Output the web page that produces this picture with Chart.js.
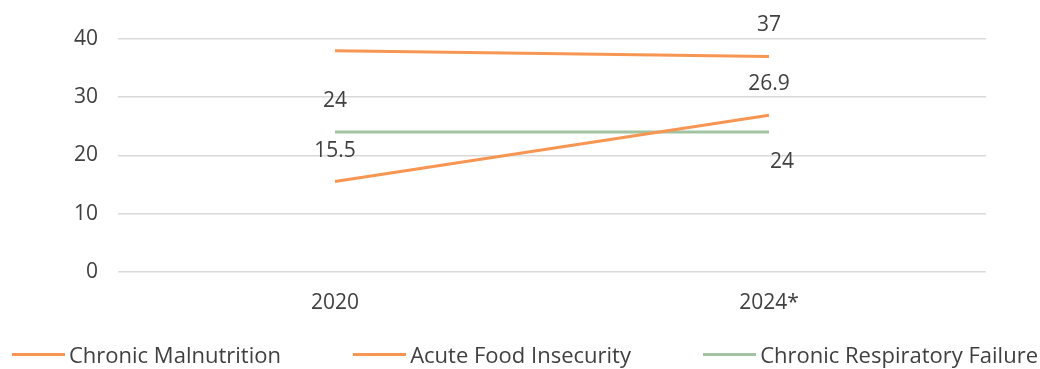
<!DOCTYPE html>
<html>
<head>
<meta charset="utf-8">
<script src="https://cdn.jsdelivr.net/npm/chart.js@4/dist/chart.umd.min.js"></script>
<style>
  html, body { margin: 0; padding: 0; background: #fff; }
  #wrap { position: relative; width: 1040px; height: 369px; }
  #legend {
    position: absolute; left: 12px; right: 2px; top: 340px; height: 28px;
    display: flex; justify-content: space-between; align-items: center;
    font: 22px "Open Sans", Lato, sans-serif; color: #404040;
  }
  #legend .item { display: flex; align-items: center; white-space: nowrap; }
  #legend .swatch { width: 53px; height: 3px; margin-right: 4px; }
</style>
</head>
<body>
<div id="wrap">
  <canvas id="chart"></canvas>
  <div id="legend"></div>
</div>
<script>
const years = ['2020', '2024*'];
const malnutrition = [38, 37];
const foodInsecurity = [15.5, 26.9];
const respiratory = [24, 24];
// which points carry a value label
const malnutritionShow = [false, true];
const foodInsecurityShow = [true, true];
const respiratoryShow = [true, true];
const yTicks = [0, 10, 20, 30, 40];

const ORANGE = '#F79552';
const GREEN = '#A2C3A2';
const TEXT = '#404040';
const FONT = '"Open Sans", Lato, sans-serif';

// draws the value labels next to the points
const valueLabels = {
    id: 'valueLabels',
    afterDatasetsDraw(chart) {
        const ctx = chart.ctx;
        ctx.save();
        ctx.font = `21px ${FONT}`;
        ctx.fillStyle = TEXT;
        ctx.textAlign = 'center';
        ctx.textBaseline = 'middle';
        chart.data.datasets.forEach((ds, di) => {
            const meta = chart.getDatasetMeta(di);
            meta.data.forEach((pt, i) => {
                if (!ds.showLabel[i]) return;
                const off = ds.labelOffset[i];
                ctx.fillText(String(ds.data[i]), pt.x + off[0], pt.y + off[1]);
            });
        });
        ctx.restore();
    }
};

// legend built as html from the chart's own legend items
const htmlLegend = {
    id: 'htmlLegend',
    afterUpdate(chart) {
        const box = document.getElementById('legend');
        box.innerHTML = '';
        chart.options.plugins.legend.labels.generateLabels(chart).forEach(item => {
            const el = document.createElement('span');
            el.className = 'item';
            const sw = document.createElement('span');
            sw.className = 'swatch';
            sw.style.background = item.strokeStyle;
            el.appendChild(sw);
            el.appendChild(document.createTextNode(item.text));
            box.appendChild(el);
        });
    }
};

new Chart(document.getElementById('chart'), {
    type: 'line',
    plugins: [valueLabels, htmlLegend],
    data: {
        labels: years,
        datasets: [
            {
                label: 'Chronic Malnutrition',
                data: malnutrition,
                showLabel: malnutritionShow,
                labelOffset: [[0, -31], [0, -31]],
                borderColor: ORANGE,
                backgroundColor: ORANGE,
            },
            {
                label: 'Acute Food Insecurity',
                data: foodInsecurity,
                showLabel: foodInsecurityShow,
                labelOffset: [[0, -31], [0, -31]],
                borderColor: ORANGE,
                backgroundColor: ORANGE,
            },
            {
                label: 'Chronic Respiratory Failure',
                data: respiratory,
                showLabel: respiratoryShow,
                labelOffset: [[0, -31], [13, 30]],
                borderColor: GREEN,
                backgroundColor: GREEN,
            },
        ]
    },
    options: {
        responsive: true,
        maintainAspectRatio: false,
        animation: false,
        layout: { padding: { top: 39, right: 54, left: 0, bottom: 34 } },
        elements: {
            line: { borderWidth: 3, tension: 0 },
            point: { radius: 0, hoverRadius: 0 },
        },
        scales: {
            x: {
                offset: true,
                grid: { display: false, drawTicks: false },
                border: { display: false },
                ticks: { color: TEXT, font: { family: FONT, size: 21 }, padding: 19 },
            },
            y: {
                min: 0,
                max: 40,
                afterBuildTicks: scale => { scale.ticks = yTicks.map(v => ({ value: v })); },
                afterFit: scale => { scale.width = 118; },
                grid: { color: '#D9D9D9', lineWidth: 1.5, drawTicks: false },
                border: { display: false },
                ticks: { color: TEXT, font: { family: FONT, size: 21 }, padding: 20 },
            },
        },
        plugins: {
            tooltip: { enabled: false },
            legend: { display: false },
        },
    },
});
</script>
</body>
</html>
